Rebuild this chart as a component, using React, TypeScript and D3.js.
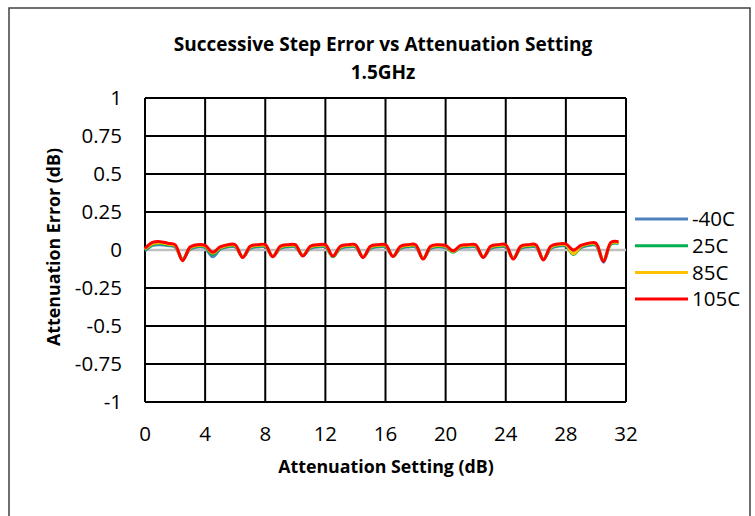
import * as d3 from "d3";

const settings = [
  0, 0.5, 1, 1.5, 2, 2.5, 3, 3.5, 4, 4.5, 5, 5.5, 6, 6.5, 7, 7.5,
  8, 8.5, 9, 9.5, 10, 10.5, 11, 11.5, 12, 12.5, 13, 13.5, 14, 14.5, 15, 15.5,
  16, 16.5, 17, 17.5, 18, 18.5, 19, 19.5, 20, 20.5, 21, 21.5, 22, 22.5, 23, 23.5,
  24, 24.5, 25, 25.5, 26, 26.5, 27, 27.5, 28, 28.5, 29, 29.5, 30, 30.5, 31, 31.5,
];

const errM40 = [
  -0.005, 0.03, 0.035, 0.03, 0.02, -0.06, 0.005, 0.02,
  0.015, -0.045, 0.005, 0.02, 0.02, -0.045, 0.01, 0.02,
  0.02, -0.04, 0.01, 0.02, 0.02, -0.035, 0.01, 0.02,
  0.02, -0.04, 0.01, 0.02, 0.02, -0.045, 0.01, 0.02,
  0.02, -0.04, 0.01, 0.02, 0.02, -0.055, 0.01, 0.02,
  0.015, -0.01, 0.015, 0.02, 0.02, -0.045, 0.01, 0.02,
  0.02, -0.055, 0.01, 0.02, 0.02, -0.06, 0.01, 0.025,
  0.025, -0.02, 0.015, 0.03, 0.03, -0.08, 0.04, 0.045,
];
const err25 = [
  0.0, 0.035, 0.042, 0.035, 0.025, -0.06, 0.01, 0.025,
  0.02, -0.03, 0.01, 0.025, 0.025, -0.045, 0.015, 0.025,
  0.025, -0.04, 0.015, 0.025, 0.025, -0.035, 0.015, 0.025,
  0.025, -0.045, 0.015, 0.025, 0.025, -0.045, 0.015, 0.025,
  0.025, -0.04, 0.015, 0.025, 0.025, -0.055, 0.015, 0.025,
  0.02, -0.015, 0.02, 0.025, 0.025, -0.045, 0.015, 0.025,
  0.025, -0.055, 0.015, 0.025, 0.025, -0.06, 0.015, 0.03,
  0.03, -0.03, 0.02, 0.035, 0.035, -0.07, 0.04, 0.045,
];
const err85 = [
  0.005, 0.042, 0.048, 0.04, 0.03, -0.065, 0.015, 0.03,
  0.025, -0.02, 0.015, 0.03, 0.03, -0.048, 0.02, 0.03,
  0.03, -0.04, 0.02, 0.03, 0.03, -0.035, 0.02, 0.03,
  0.03, -0.04, 0.02, 0.03, 0.03, -0.045, 0.02, 0.03,
  0.03, -0.04, 0.02, 0.03, 0.03, -0.055, 0.02, 0.03,
  0.025, -0.01, 0.025, 0.03, 0.03, -0.045, 0.02, 0.03,
  0.03, -0.055, 0.02, 0.03, 0.03, -0.06, 0.02, 0.035,
  0.035, -0.025, 0.025, 0.04, 0.04, -0.07, 0.045, 0.05,
];
const err105 = [
  0.01, 0.05, 0.055, 0.045, 0.035, -0.07, 0.02, 0.035,
  0.03, -0.015, 0.02, 0.035, 0.035, -0.05, 0.025, 0.035,
  0.035, -0.045, 0.025, 0.035, 0.035, -0.04, 0.025, 0.035,
  0.035, -0.04, 0.025, 0.035, 0.035, -0.05, 0.025, 0.035,
  0.035, -0.043, 0.025, 0.035, 0.035, -0.06, 0.025, 0.035,
  0.03, -0.005, 0.03, 0.035, 0.035, -0.05, 0.025, 0.035,
  0.035, -0.06, 0.025, 0.035, 0.035, -0.065, 0.025, 0.04,
  0.04, 0.0, 0.03, 0.045, 0.045, -0.075, 0.05, 0.055,
];

const seriesNames = ["-40C", "25C", "85C", "105C"];
const seriesValues = [errM40, err25, err85, err105];
const seriesColors = ["#4F81BD", "#00B050", "#FFC000", "#FF0000"];

const xTicks = [0, 4, 8, 12, 16, 20, 24, 28, 32];
const yTicks = [1, 0.75, 0.5, 0.25, 0, -0.25, -0.5, -0.75, -1];

const FONT = "'Open Sans', Lato, sans-serif";

export default function App() {
  const margin = { left: 145, top: 98, right: 626, bottom: 402 };
  const x = d3.scaleLinear().domain([0, 32]).range([margin.left, margin.right]);
  const y = d3.scaleLinear().domain([-1, 1]).range([margin.bottom, margin.top]);

  const line = d3
    .line<number>()
    .x((_, i) => x(settings[i]))
    .y((d) => y(d))
    .curve(d3.curveCatmullRom);

  return (
    <svg
      width={755}
      height={516}
      style={{ position: "absolute", left: 0, top: 0, background: "#fff" }}
      fontFamily={FONT}
    >
      <rect x={9} y={8} width={741} height={520} fill="#fff" stroke="#404040" strokeWidth={1.5} />

      <text x={383} y={51} textAnchor="middle" fontSize={19} fontWeight="bold">
        Successive Step Error vs Attenuation Setting
      </text>
      <text x={383} y={79} textAnchor="middle" fontSize={19} fontWeight="bold">
        1.5GHz
      </text>

      {/* grid */}
      {yTicks.map((t) => (
        <line key={"h" + t} x1={x(0)} x2={x(32)} y1={y(t)} y2={y(t)} stroke="#000" strokeWidth={2} />
      ))}
      {xTicks.map((t) => (
        <line key={"v" + t} x1={x(t)} x2={x(t)} y1={y(1)} y2={y(-1)} stroke="#000" strokeWidth={2} />
      ))}
      <line x1={x(0)} x2={x(32)} y1={y(0)} y2={y(0)} stroke="#BFBFBF" strokeWidth={2.5} />

      {/* y tick labels */}
      {yTicks.map((t) => (
        <text key={"yl" + t} x={122} y={y(t)} dy="0.35em" textAnchor="end" fontSize={20.5}>
          {t === 0 ? "0" : String(t)}
        </text>
      ))}
      {/* x tick labels */}
      {xTicks.map((t) => (
        <text key={"xl" + t} x={x(t)} y={441} textAnchor="middle" fontSize={20.5}>
          {t}
        </text>
      ))}

      <text x={386} y={473} textAnchor="middle" fontSize={17.8} fontWeight="bold">
        Attenuation Setting (dB)
      </text>
      <text
        transform={`translate(60,247) rotate(-90)`}
        textAnchor="middle"
        fontSize={17.8}
        fontWeight="bold"
      >
        Attenuation Error (dB)
      </text>

      {/* series */}
      {seriesValues.map((vals, i) => (
        <path
          key={seriesNames[i]}
          d={line(vals) || ""}
          fill="none"
          stroke={seriesColors[i]}
          strokeWidth={3}
          strokeLinejoin="round"
        />
      ))}

      {/* legend */}
      {seriesNames.map((name, i) => (
        <g key={"lg" + name} transform={`translate(0,${219 + i * 26.7})`}>
          <line x1={635} x2={688} y1={0} y2={0} stroke={seriesColors[i]} strokeWidth={3} />
          <text x={692} y={0} dy="0.35em" fontSize={20.5}>
            {name}
          </text>
        </g>
      ))}
    </svg>
  );
}
